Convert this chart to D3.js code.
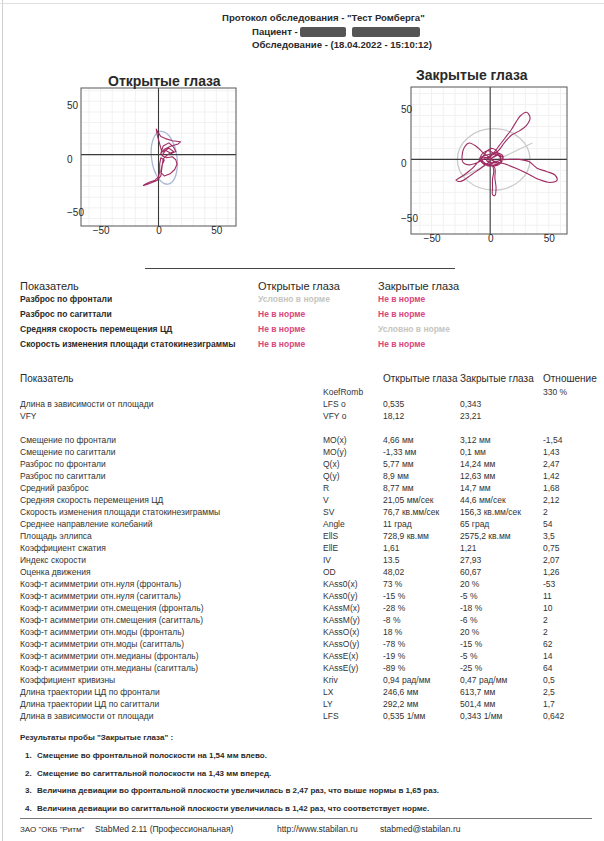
<!DOCTYPE html>
<html>
<head>
<meta charset="utf-8">
<script src="https://cdn.jsdelivr.net/npm/d3@7"></script>
<style>
  body { margin: 0; background: #fff; }
  svg { display: block; font-family: "Liberation Sans", Arial, sans-serif; }
</style>
</head>
<body>
<svg id="page" width="604" height="841"></svg>
<script>
// ---------- report data ----------
const headerTitle = 'Протокол обследования - "Тест Ромберга"';
const headerPatient = 'Пациент -';
const headerExam = 'Обследование - (18.04.2022 - 15:10:12)';

const plotTitles = ['Открытые глаза', 'Закрытые глаза'];
const tickValues = [-50, 0, 50];

// centre-of-pressure trajectories, mm (x = frontal, y = sagittal)
const openTrack = [
  [3,2],[1,10],[-1,18],[-2,24],[-1,22],[2,17],[6,15],[12,13],[19,12],[17,10],[11,8],[5,5],
  [2,1],[4,8],[9,11],[13,7],[15,3],[11,1],[6,4],[3,-1],[7,-3],[12,-2],[15,-5],[16,-9],
  [14,-14],[10,-18],[5,-20],[2,-17],[3,-10],[5,-5],[2,-3],[1,-9],[1,-16],[0,-21],[-3,-24],
  [-8,-26],[-12,-28],[-13,-29],[-10,-28],[-5,-26],[-1,-24],[2,-20],[3,-12],[4,-4],[8,0],
  [13,3],[9,6],[4,3]
];
const closedTrack = [
  [0,0],[6,4],[10,-2],[4,-6],[-5,-3],[-8,3],[-2,8],[4,5],[9,2],[5,-3],[-3,-1],
  [3,6],[8,13],[13,20],[18,27],[22,34],[26,40],[31,43],[34,38],[31,31],[25,26],[18,22],[12,15],[6,7],
  [-3,4],[-9,1],[-4,-5],[3,-2],
  [-6,6],[-12,12],[-18,15],[-22,11],[-24,3],[-23,-3],[-18,-5],[-11,-3],[-4,1],
  [5,5],[11,1],[6,-4],[-2,-6],
  [8,-1],[16,0],[25,0],[33,-2],[40,-8],[48,-11],[55,-14],[57,-19],[51,-21],[41,-18],[32,-13],[22,-8],[12,-4],[4,-2],
  [-6,2],[-10,-2],
  [-15,-8],[-22,-14],[-29,-19],[-25,-20],[-16,-14],[-8,-8],[0,-3],
  [3,-10],[2,-18],[2,-26],[2,-32],[4,-33],[5,-26],[4,-17],[4,-8],
  [-1,-1],[7,5],[2,10],[-4,6],[-7,-2],[0,-6],[8,-3],[11,3],[5,6],[0,2]
];
// confidence ellipses: centre x, centre y, semi-axis x, semi-axis y (mm), tilt (deg)
const openEllipse = [5, -3, 11, 25, -8];
const closedEllipse = [3, 0, 31, 28, 0];
// principal axis of the closed-eyes ellipse, mm
const closedAxis = [[-30, -19], [36, 15]];

const assessHead = ['Показатель', 'Открытые глаза', 'Закрытые глаза'];
const assessNames = ['Разброс по фронтали', 'Разброс по сагиттали',
  'Средняя скорость перемещения ЦД', 'Скорость изменения площади статокинезиграммы'];
const assessOpen = ['Условно в норме', 'Не в норме', 'Не в норме', 'Не в норме'];
const assessClosed = ['Не в норме', 'Не в норме', 'Условно в норме', 'Не в норме'];

const tableHead = ['Показатель', 'Открытые глаза', 'Закрытые глаза', 'Отношение'];
const romberg = ['KoefRomb', '330 %'];
const indicatorNames = ['Длина в зависимости от площади', 'VFY', '',
  'Смещение по фронтали', 'Смещение по сагиттали', 'Разброс по фронтали', 'Разброс по сагиттали',
  'Средний разброс', 'Средняя скорость перемещения ЦД', 'Скорость изменения площади статокинезиграммы',
  'Среднее направление колебаний', 'Площадь эллипса', 'Коэффициент сжатия', 'Индекс скорости',
  'Оценка движения', 'Коэф-т асимметрии отн.нуля (фронталь)', 'Коэф-т асимметрии отн.нуля (сагитталь)',
  'Коэф-т асимметрии отн.смещения (фронталь)', 'Коэф-т асимметрии отн.смещения (сагитталь)',
  'Коэф-т асимметрии отн.моды (фронталь)', 'Коэф-т асимметрии отн.моды (сагитталь)',
  'Коэф-т асимметрии отн.медианы (фронталь)', 'Коэф-т асимметрии отн.медианы (сагитталь)',
  'Коэффициент кривизны', 'Длина траектории ЦД по фронтали', 'Длина траектории ЦД по сагиттали',
  'Длина в зависимости от площади'];
const indicatorCodes = ['LFS o', 'VFY o', '', 'MO(x)', 'MO(y)', 'Q(x)', 'Q(y)', 'R', 'V', 'SV',
  'Angle', 'EllS', 'EllE', 'IV', 'OD', 'KAss0(x)', 'KAss0(y)', 'KAssM(x)', 'KAssM(y)',
  'KAssO(x)', 'KAssO(y)', 'KAssE(x)', 'KAssE(y)', 'Kriv', 'LX', 'LY', 'LFS'];
const openValues = ['0,535', '18,12', '', '4,66 мм', '-1,33 мм', '5,77 мм', '8,9 мм', '8,77 мм',
  '21,05 мм/сек', '76,7 кв.мм/сек', '11 град', '728,9 кв.мм', '1,61', '13.5', '48,02', '73 %',
  '-15 %', '-28 %', '-8 %', '18 %', '-78 %', '-19 %', '-89 %', '0,94 рад/мм', '246,6 мм',
  '292,2 мм', '0,535 1/мм'];
const closedValues = ['0,343', '23,21', '', '3,12 мм', '0,1 мм', '14,24 мм', '12,63 мм', '14,7 мм',
  '44,6 мм/сек', '156,3 кв.мм/сек', '65 град', '2575,2 кв.мм', '1,21', '27,93', '60,67', '20 %',
  '-5 %', '-18 %', '-6 %', '20 %', '-15 %', '-5 %', '-25 %', '0,47 рад/мм', '613,7 мм',
  '501,4 мм', '0,343 1/мм'];
const ratioValues = ['', '', '', '-1,54', '1,43', '2,47', '1,42', '1,68', '2,12', '2', '54', '3,5',
  '0,75', '2,07', '1,26', '-53', '11', '10', '2', '2', '62', '14', '64', '0,5', '2,5', '1,7', '0,642'];

const conclusionTitle = 'Результаты пробы "Закрытые глаза" :';
const conclusions = [
  'Смещение во фронтальной полоскости на 1,54 мм влево.',
  'Смещение во сагиттальной полоскости на 1,43 мм вперед.',
  'Величина девиации во фронтальной плоскости увеличилась в 2,47 раз, что выше нормы в 1,65 раз.',
  'Величина девиации во сагиттальной плоскости увеличилась в 1,42 раз, что соответствует норме.'
];
const footerItems = ['ЗАО "ОКБ "Ритм"', 'StabMed 2.11 (Профессиональная)', 'http://www.stabilan.ru', 'stabmed@stabilan.ru'];

// ---------- drawing ----------
const svg = d3.select('#page');
const INK = '#2a2a2a';
const PINK = '#d8477d';
const PALE = '#c6c6c0';

// page edges of the printed sheet
svg.append('line').attr('x1', 2.5).attr('x2', 2.5).attr('y1', 0).attr('y2', 841)
  .attr('stroke', '#cfcfcf').attr('stroke-width', 1);
svg.append('line').attr('x1', 0).attr('x2', 604).attr('y1', 3.5).attr('y2', 3.5)
  .attr('stroke', '#e0e0e0').attr('stroke-width', 1);

// header
const head = svg.append('g').attr('fill', INK).attr('font-weight', 'bold').attr('font-size', 9.6);
head.append('text').attr('x', 222).attr('y', 21).text(headerTitle);
head.append('text').attr('x', 252).attr('y', 35).text(headerPatient);
head.append('text').attr('x', 252).attr('y', 48).text(headerExam);
// blacked-out patient name
[[300, 27, 46, 10], [352, 27, 68, 10]].forEach(r => {
  svg.append('rect').attr('x', r[0]).attr('y', r[1]).attr('width', r[2]).attr('height', r[3])
    .attr('rx', 2).attr('fill', '#555');
});

// statokinesigram plots
function drawPlot(cfg) {
  const x = d3.scaleLinear().domain(cfg.xDomain).range([cfg.left, cfg.right]);
  const y = d3.scaleLinear().domain(cfg.yDomain).range([cfg.bottom, cfg.top]);
  const g = svg.append('g');
  const clipId = 'clip' + cfg.id;
  svg.append('clipPath').attr('id', clipId).append('rect')
    .attr('x', cfg.left).attr('y', cfg.top)
    .attr('width', cfg.right - cfg.left).attr('height', cfg.bottom - cfg.top);

  // faint millimetre grid
  const grid = g.append('g').attr('stroke', '#f1f1f1').attr('stroke-width', 1);
  grid.selectAll('.gx').data(x.ticks(14)).join('line')
    .attr('x1', d => x(d)).attr('x2', d => x(d)).attr('y1', cfg.top).attr('y2', cfg.bottom);
  grid.selectAll('.gy').data(y.ticks(14)).join('line')
    .attr('y1', d => y(d)).attr('y2', d => y(d)).attr('x1', cfg.left).attr('x2', cfg.right);

  const body = g.append('g').attr('clip-path', `url(#${clipId})`);
  const e = cfg.ellipse;
  const kx = x(1) - x(0), ky = y(0) - y(1);
  body.append('ellipse')
    .attr('cx', x(e[0])).attr('cy', y(e[1]))
    .attr('rx', e[2] * kx).attr('ry', e[3] * ky)
    .attr('transform', `rotate(${e[4]},${x(e[0])},${y(e[1])})`)
    .attr('fill', 'none').attr('stroke', cfg.ellipseColor).attr('stroke-width', 1.3);
  if (cfg.axis) {
    body.append('line')
      .attr('x1', x(cfg.axis[0][0])).attr('y1', y(cfg.axis[0][1]))
      .attr('x2', x(cfg.axis[1][0])).attr('y2', y(cfg.axis[1][1]))
      .attr('stroke', cfg.ellipseColor).attr('stroke-width', 1.2);
  }
  // zero axes
  body.append('line').attr('x1', x(0)).attr('x2', x(0)).attr('y1', cfg.top).attr('y2', cfg.bottom)
    .attr('stroke', '#3a3a3a').attr('stroke-width', 1.1);
  body.append('line').attr('y1', y(0)).attr('y2', y(0)).attr('x1', cfg.left).attr('x2', cfg.right)
    .attr('stroke', '#3a3a3a').attr('stroke-width', 1.1);
  // trajectory
  body.append('path').datum(cfg.track)
    .attr('d', d3.line().x(d => x(d[0])).y(d => y(d[1])).curve(cfg.curve))
    .attr('fill', 'none').attr('stroke', '#a02c63').attr('stroke-width', 1.1)
    .attr('stroke-linejoin', 'round');
  // frame
  g.append('rect').attr('x', cfg.left).attr('y', cfg.top)
    .attr('width', cfg.right - cfg.left).attr('height', cfg.bottom - cfg.top)
    .attr('fill', 'none').attr('stroke', '#555').attr('stroke-width', 1);

  // tick labels
  const ax = g.append('g').attr('transform', `translate(0,${cfg.bottom})`)
    .call(d3.axisBottom(x).tickValues(tickValues).tickSize(0).tickPadding(1));
  ax.select('.domain').remove();
  ax.selectAll('text').attr('font-size', 10).attr('fill', INK)
    .attr('font-family', '"Liberation Sans", Arial, sans-serif');
  const ay = g.append('g').attr('transform', `translate(${cfg.left},0)`)
    .call(d3.axisLeft(y).tickValues(tickValues).tickSize(0));
  ay.select('.domain').remove();
  ay.selectAll('text').attr('font-size', 10).attr('fill', INK).attr('text-anchor', 'start')
    .attr('x', cfg.labelX - cfg.left).attr('dy', '0.75em')
    .attr('font-family', '"Liberation Sans", Arial, sans-serif');

  g.append('text').attr('x', cfg.titleX).attr('y', cfg.titleY)
    .attr('font-size', 14).attr('font-weight', 'bold').attr('fill', INK).text(cfg.title);
}

drawPlot({ id: 'open', title: plotTitles[0], titleX: 108, titleY: 86,
  left: 81, right: 236, top: 88, bottom: 226, labelX: 67,
  xDomain: [-67, 67], yDomain: [-67, 62.5],
  track: openTrack, curve: d3.curveLinear,
  ellipse: openEllipse, ellipseColor: '#a9b8d6', axis: null });
drawPlot({ id: 'closed', title: plotTitles[1], titleX: 416, titleY: 80,
  left: 411, right: 567, top: 87, bottom: 234, labelX: 401,
  xDomain: [-67.5, 65.5], yDomain: [-68, 66],
  track: closedTrack, curve: d3.curveCatmullRom.alpha(0.5),
  ellipse: closedEllipse, ellipseColor: '#cacaca', axis: closedAxis });

// separator
svg.append('line').attr('x1', 145).attr('x2', 455).attr('y1', 268.5).attr('y2', 268.5)
  .attr('stroke', '#444').attr('stroke-width', 1);

// assessment table
const aCols = [20, 258, 378];
const aHead = svg.append('g').attr('fill', INK).attr('font-size', 11);
assessHead.forEach((t, i) => aHead.append('text').attr('x', aCols[i]).attr('y', 290).text(t));
const aRows = svg.append('g').attr('font-size', 8.5).attr('font-weight', 'bold');
const statusColor = s => s === 'Не в норме' ? PINK : PALE;
assessNames.forEach((name, i) => {
  const yy = 302 + i * 15;
  aRows.append('text').attr('x', aCols[0]).attr('y', yy).attr('fill', INK).text(name);
  aRows.append('text').attr('x', aCols[1]).attr('y', yy).attr('fill', statusColor(assessOpen[i])).text(assessOpen[i]);
  aRows.append('text').attr('x', aCols[2]).attr('y', yy).attr('fill', statusColor(assessClosed[i])).text(assessClosed[i]);
});

// indicator table
const cols = { name: 20, code: 323, open: 383, closed: 460, ratio: 543 };
const tHead = svg.append('g').attr('fill', INK).attr('font-size', 10);
tHead.append('text').attr('x', cols.name).attr('y', 382).text(tableHead[0]);
tHead.append('text').attr('x', cols.open).attr('y', 382).text(tableHead[1]);
tHead.append('text').attr('x', cols.closed).attr('y', 382).text(tableHead[2]);
tHead.append('text').attr('x', cols.ratio).attr('y', 382).text(tableHead[3]);
const tBody = svg.append('g').attr('fill', '#333').attr('font-size', 8.5);
tBody.append('text').attr('x', cols.code).attr('y', 395).text(romberg[0]);
tBody.append('text').attr('x', cols.ratio).attr('y', 395).text(romberg[1]);
indicatorNames.forEach((name, i) => {
  const yy = 407 + i * 12;
  tBody.append('text').attr('x', cols.name).attr('y', yy).text(name);
  tBody.append('text').attr('x', cols.code).attr('y', yy).text(indicatorCodes[i]);
  tBody.append('text').attr('x', cols.open).attr('y', yy).text(openValues[i]);
  tBody.append('text').attr('x', cols.closed).attr('y', yy).text(closedValues[i]);
  tBody.append('text').attr('x', cols.ratio).attr('y', yy).text(ratioValues[i]);
});

// conclusions
const concl = svg.append('g').attr('fill', INK).attr('font-size', 8).attr('font-weight', 'bold');
concl.append('text').attr('x', 20).attr('y', 740).text(conclusionTitle);
conclusions.forEach((t, i) => {
  const yy = 758 + i * 17.7;
  concl.append('text').attr('x', 25).attr('y', yy).text((i + 1) + '.');
  concl.append('text').attr('x', 37).attr('y', yy).text(t);
});

// footer
svg.append('line').attr('x1', 20).attr('x2', 592).attr('y1', 818.5).attr('y2', 818.5)
  .attr('stroke', '#777').attr('stroke-width', 1);
const fX = [20, 95, 277, 380];
const fSize = [8, 8.5, 8.5, 8.5];
const foot = svg.append('g').attr('fill', INK);
footerItems.forEach((t, i) => foot.append('text').attr('x', fX[i]).attr('y', 832)
  .attr('font-size', fSize[i]).text(t));
</script>
</body>
</html>
